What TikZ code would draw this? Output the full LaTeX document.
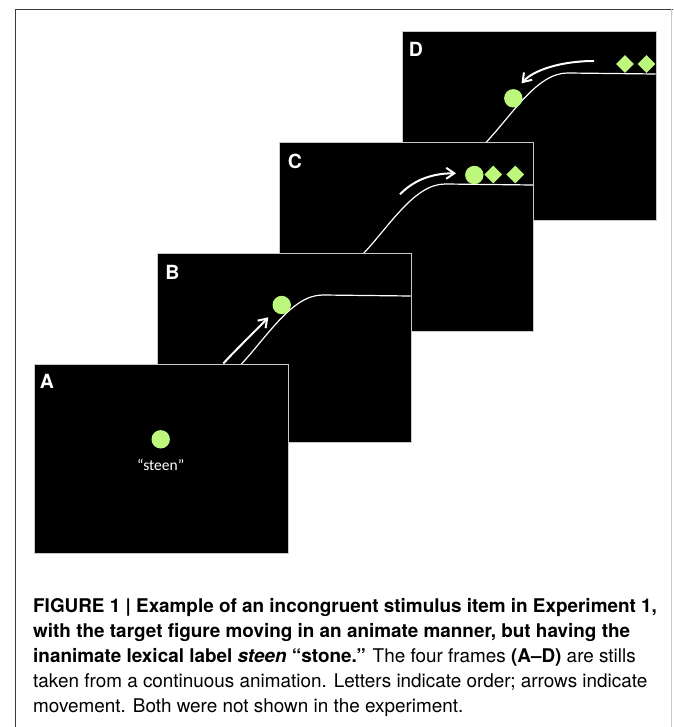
\documentclass[tikz,border=0pt]{standalone}
\usepackage{fontspec}
\setmainfont{TeX Gyre Heros}
\newfontfamily\calibfont{Carlito}
\usetikzlibrary{arrows.meta, shapes.geometric, positioning}
\definecolor{figgreen}{RGB}{189,247,124}
\definecolor{framegray}{RGB}{200,200,200}
\definecolor{rulegray}{RGB}{60,60,60}

\begin{document}
\begin{tikzpicture}[x=1pt, y=-1pt,
      still/.style={draw=framegray, fill=black, line width=1pt, anchor=north west,
        inner sep=0pt, minimum width=254pt, minimum height=189pt},
      ball/.style={circle, fill=figgreen, inner sep=0pt, minimum size=18.4pt},
      rock/.style={diamond, fill=figgreen, inner sep=0pt, minimum size=18pt},
      track/.style={white, line width=1.2pt},
      move/.style={white, line width=2pt, -{Straight Barb[length=8pt, width=11pt]}},
      tag/.style={text=white, inner sep=0pt, font=\bfseries\fontsize{19.5}{20}\selectfont},
      caption/.style={anchor=north west, inner sep=0pt, align=left,
        font=\fontsize{18.9}{25}\selectfont}]
  \useasboundingbox (0,0) rectangle (673,727);
  % page rule
  \draw[rulegray, line width=1pt] (15.3,727) -- (15.3,9.3) -- (673,9.3);
  \draw[framegray, line width=0.8pt] (671.8,9.3) -- (671.8,727);

  % still D (at the back)
  \begin{scope}[shift={(401.5,31)}]
    \node[still] (frameD) at (0,0) {};
    \coordinate (groundD0) at (83,113);
    \coordinate (groundD1) at (254,43);
    \draw[track] (groundD0) .. controls (110,85) and (135,42) .. (166,42) -- (groundD1);
    \node[ball] (ballD) at (111.8,67.3) {};
    \node[rock] (rockD1) at (223.5,33) {};
    \node[rock] (rockD2) at (245,33) {};
    \coordinate (runD0) at (192.5,30);
    \coordinate (runD1) at (120,52.4);
    \draw[move] (runD0) .. controls (160,30) and (132,39) .. (runD1);
    \node[tag] (tagD) at (14.5,18) {D};
  \end{scope}

  % still C
  \begin{scope}[shift={(279,142)}]
    \node[still] (frameC) at (0,0) {};
    \coordinate (groundC0) at (83,113);
    \coordinate (groundC1) at (254,43);
    \draw[track] (groundC0) .. controls (110,85) and (135,42) .. (166,42) -- (groundC1);
    \node[ball] (ballC) at (195.3,33) {};
    \node[rock] (rockC1) at (214.3,32.5) {};
    \node[rock] (rockC2) at (236.3,32.5) {};
    \coordinate (runC0) at (121,52.3);
    \coordinate (runC1) at (177,31.3);
    \draw[move] (runC0) .. controls (133,40) and (150,31.3) .. (runC1);
    \node[tag] (tagC) at (16,19) {C};
  \end{scope}

  % still B
  \begin{scope}[shift={(156.5,253)}]
    \node[still] (frameB) at (0,0) {};
    \coordinate (groundB0) at (83,113);
    \coordinate (groundB1) at (254,43);
    \draw[track] (groundB0) .. controls (110,85) and (135,42) .. (166,42) -- (groundB1);
    \node[ball] (ballB) at (125.2,52) {};
    \coordinate (runB0) at (66.8,110.5);
    \coordinate (runB1) at (111.8,64.3);
    \draw[move] (runB0) .. controls (82,94) and (97,80) .. (runB1);
    \node[tag] (tagB) at (16,19) {B};
  \end{scope}

  % still A (in front)
  \begin{scope}[shift={(34,364)}]
    \node[still] (frameA) at (0,0) {};
    \node[ball] (ballA) at (126.7,75.3) {};
    \node[text=white, inner sep=0pt, font=\calibfont\fontsize{15.5}{16}\selectfont,
      below=10.5pt of ballA] (wordA) {“steen”};
    \node[tag] (tagA) at (13,17.5) {A};
  \end{scope}

  % legend
  \node[caption] (legend) at (33,598.5) {%
    \textbf{FIGURE 1 | Example of an incongruent stimulus item in Experiment 1,}\\
    \textbf{with the target figure moving in an animate manner, but having the}\\
    \textbf{inanimate lexical label \textit{steen} “stone.”} The four frames \textbf{(A–D)} are stills\\
    taken from a continuous animation. Letters indicate order; arrows indicate\\
    movement. Both were not shown in the experiment.};
\end{tikzpicture}
\end{document}
